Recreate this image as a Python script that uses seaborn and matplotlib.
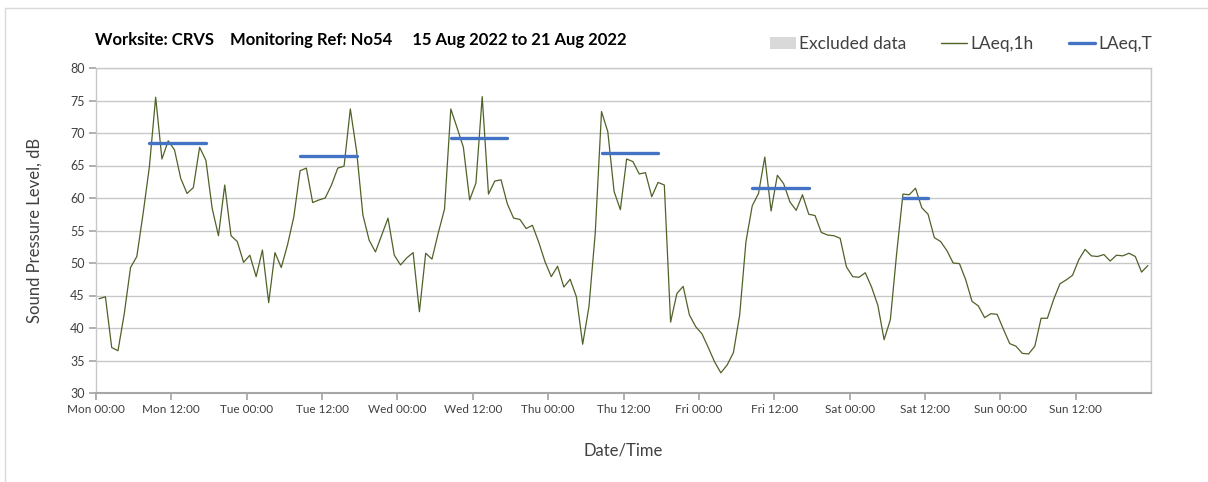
import numpy as np
import pandas as pd
import matplotlib
matplotlib.use("Agg")
import matplotlib.pyplot as plt
import seaborn as sns
from matplotlib.patches import Patch, Rectangle
from matplotlib.lines import Line2D

# Hourly LAeq,1h values, Mon 00:00 .. Sun 23:00
laeq_1h = [
    44.5, 44.8, 37.0, 36.5, 42.2, 49.3, 51.0, 57.6, 64.8, 75.5, 66.0, 68.8,
    67.4, 63.0, 60.7, 61.6, 67.8, 65.8, 58.4, 54.2, 62.0, 54.2, 53.3, 50.1,
    51.2, 47.9, 52.0, 43.9, 51.6, 49.3, 52.8, 57.1, 64.2, 64.6, 59.3, 59.7,
    60.0, 62.0, 64.6, 64.9, 73.7, 67.2, 57.4, 53.5, 51.7, 54.3, 56.9, 51.2,
    49.7, 50.8, 51.6, 42.5, 51.5, 50.6, 54.6, 58.3, 73.7, 70.8, 67.8, 59.7,
    62.3, 75.6, 60.6, 62.6, 62.8, 59.1, 56.9, 56.7, 55.3, 55.8, 53.2, 50.2,
    47.9, 49.5, 46.3, 47.5, 44.8, 37.5, 43.3, 54.6, 73.3, 70.2, 61.0, 58.2,
    66.0, 65.6, 63.7, 63.9, 60.2, 62.4, 62.0, 40.9, 45.3, 46.4, 42.0, 40.2,
    39.1, 37.0, 34.8, 33.1, 34.3, 36.2, 42.0, 53.3, 58.8, 60.7, 66.3, 58.0,
    63.5, 62.2, 59.4, 58.1, 60.5, 57.5, 57.3, 54.7, 54.3, 54.2, 53.8, 49.4,
    47.9, 47.8, 48.5, 46.3, 43.5, 38.2, 41.3, 51.5, 60.6, 60.5, 61.5, 58.5,
    57.5, 53.9, 53.3, 51.9, 50.0, 49.9, 47.4, 44.1, 43.4, 41.6, 42.2, 42.1,
    39.8, 37.6, 37.2, 36.1, 36.0, 37.2, 41.5, 41.5, 44.4, 46.8, 47.4, 48.1,
    50.5, 52.1, 51.1, 51.0, 51.3, 50.3, 51.2, 51.1, 51.5, 51.0, 48.6, 49.6,
]

# LAeq,T for each working period (hour index of first and last hour)
laeq_t = [68.4, 66.4, 69.2, 66.9, 61.5, 60.0]
t_start = [8, 32, 56, 80, 104, 128]
t_end = [17, 41, 65, 89, 113, 132]

tick_labels = ["Mon 00:00", "Mon 12:00", "Tue 00:00", "Tue 12:00",
               "Wed 00:00", "Wed 12:00", "Thu 00:00", "Thu 12:00",
               "Fri 00:00", "Fri 12:00", "Sat 00:00", "Sat 12:00",
               "Sun 00:00", "Sun 12:00"]

green = "#4f6228"
blue = "#4472c4"
grey = "#d9d9d9"

sns.set_theme(style="white")
plt.rcParams['font.family'] = ['Lato', 'DejaVu Sans']

fig = plt.figure(figsize=(12.08, 4.82), dpi=100)
ax = fig.add_axes([96 / 1208, 1 - 393 / 482, (1151 - 96) / 1208, (393 - 68) / 482])

# outer chart border (only left/top visible in the crop)
fig.patches.append(Rectangle((5 / 1208, -0.1), 1.2, 1 - 8 / 482 + 0.1,
                             transform=fig.transFigure, fill=False,
                             edgecolor="#d9d9d9", lw=1))

df = pd.DataFrame({"hour": np.arange(len(laeq_1h)) + 0.5, "level": laeq_1h})
sns.lineplot(data=df, x="hour", y="level", ax=ax, color=green, lw=0.9)

for val, s, e in zip(laeq_t, t_start, t_end):
    seg = pd.DataFrame({"hour": np.arange(s, e + 1) + 0.5, "level": val})
    sns.lineplot(data=seg, x="hour", y="level", ax=ax, color=blue, lw=2.4)

ax.set_xlim(0, 168)
ax.set_ylim(30, 80)
ax.set_yticks(np.arange(30, 81, 5))
ax.set_xticks(np.arange(0, 168, 12))
ax.set_xticklabels(tick_labels)
ax.set_xticks(np.arange(0, 169, 24), minor=True)

ax.grid(axis="y", color="#c8c8c8", lw=1)
ax.grid(axis="x", which="minor", color="#dedede", lw=1)
ax.grid(axis="x", which="major", visible=False)
ax.set_axisbelow(True)

for side in ["top", "right", "left"]:
    ax.spines[side].set_color("#c8c8c8")
    ax.spines[side].set_linewidth(1)
ax.spines["bottom"].set_color("#a6a6a6")
ax.spines["bottom"].set_linewidth(1.5)

ax.tick_params(axis="x", which="major", bottom=True, length=5, color="#a6a6a6",
               labelsize=8.5, pad=3, labelcolor="#404040")
ax.tick_params(axis="x", which="minor", bottom=False)
ax.tick_params(axis="y", left=True, length=5, color="#a6a6a6",
               labelsize=9, pad=3, labelcolor="#404040")

ax.set_xlabel("Date/Time", fontsize=12, color="#404040", labelpad=20)
ax.set_ylabel("Sound Pressure Level, dB", fontsize=12, color="#404040", labelpad=20)

fig.text(95 / 1208, 1 - 40 / 482,
         "Worksite: CRVS    Monitoring Ref: No54     15 Aug 2022 to 21 Aug 2022",
         fontsize=12, fontweight="bold", color="black", va="center", ha="left")

handles = [Patch(facecolor=grey, edgecolor="none"),
           Line2D([], [], color=green, lw=1),
           Line2D([], [], color=blue, lw=2.4)]
fig.legend(handles, ["Excluded data", "LAeq,1h", "LAeq,T"],
           loc="center right", bbox_to_anchor=(1152 / 1208, 1 - 44 / 482),
           ncol=3, frameon=False, fontsize=12.5, handlelength=1.5,
           handletextpad=0.2, columnspacing=2.0, labelcolor="#404040",
           borderaxespad=0, borderpad=0)

fig.savefig("out.png", dpi=100)
